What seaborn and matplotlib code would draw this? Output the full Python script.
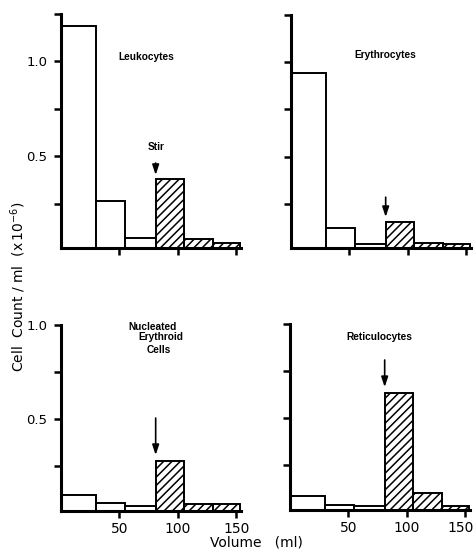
import matplotlib
matplotlib.use("Agg")
import matplotlib.pyplot as plt
import matplotlib.transforms as mtransforms
import numpy as np
import pandas as pd
import seaborn as sns

# ---------------- data ----------------
bin_edges = [0, 30, 55, 81, 105, 130, 153]
leukocytes = [1.187, 0.264, 0.067, 0.380, 0.062, 0.044]
erythrocytes = [0.943, 0.120, 0.037, 0.155, 0.044, 0.037]
nucleated_erythroid = [0.095, 0.051, 0.035, 0.278, 0.046, 0.046]
reticulocytes = [0.085, 0.037, 0.032, 0.636, 0.104, 0.033]
hatched_bins = [False, False, False, True, True, True]
stir_volume = 81
x_ticks = [50, 100, 150]
x_tick_labels = ["50", "100", "150"]

sns.set_style("ticks")
plt.rcParams["font.family"] = ["DejaVu Sans"]
plt.rcParams["text.color"] = "black"
plt.rcParams["hatch.linewidth"] = 1.1
plt.rcParams["hatch.color"] = "black"

W, H = 476, 550
fig = plt.figure(figsize=(W / 100, H / 100), dpi=100)


def axes_px(left, top, right, bottom):
    return fig.add_axes([left / W, 1 - bottom / H, (right - left) / W, (bottom - top) / H])


panels = [
    dict(vals=leukocytes, box=(61, 14, 241, 248), ylim=(0.016, 1.25),
         minor=[0.25, 0.75, 1.25], ylab=True, xlab=False,
         texts=[("Leukocytes", 72.7, 1.025), ("Stir", 81.3, 0.549)],
         arrow=(0.464, 0.401)),
    dict(vals=erythrocytes, box=(291, 15, 471, 248), ylim=(0.016, 1.25),
         minor=[0.25, 0.75, 1.25], ylab=False, xlab=False,
         texts=[("Erythrocytes", 80.4, 1.039)],
         arrow=(0.285, 0.18)),
    dict(vals=nucleated_erythroid, box=(61, 325, 241, 510.5), ylim=(0.013, 1.0),
         minor=[0.25, 0.75], ylab=True, xlab=True,
         texts=[("Nucleated", 78.3, 0.991), ("Erythroid", 85.1, 0.935), ("Cells", 83.4, 0.867)],
         arrow=(0.505, 0.308)),
    dict(vals=reticulocytes, box=(290, 324, 470, 510), ylim=(0.013, 1.0),
         minor=[0.25, 0.75], ylab=False, xlab=True,
         texts=[("Reticulocytes", 76.1, 0.931)],
         arrow=(0.809, 0.665)),
]

edges = np.array(bin_edges, dtype=float)
centers = (edges[:-1] + edges[1:]) / 2

axes = []
for p in panels:
    ax = axes_px(*p["box"])
    axes.append(ax)
    df = pd.DataFrame({"volume": centers, "count": p["vals"]})
    sns.histplot(data=df, x="volume", weights="count", bins=bin_edges,
                 color="white", edgecolor="black", linewidth=1.4, alpha=1,
                 ax=ax)
    for patch, h in zip(ax.patches, hatched_bins):
        if h:
            patch.set_hatch("////")
    ax.set_xlim(0, 154)
    ax.set_ylim(*p["ylim"])
    ax.set_xlabel("")
    ax.set_ylabel("")
    sns.despine(ax=ax)
    for s in ("left", "bottom"):
        ax.spines[s].set_linewidth(2.2)
        ax.spines[s].set_color("black")
    ax.set_xticks(x_ticks)
    ax.set_xticklabels(x_tick_labels if p["xlab"] else [])
    ax.set_yticks([0.5, 1.0])
    ax.set_yticklabels(["0.5", "1.0"] if p["ylab"] else [])
    ax.set_yticks(p["minor"], minor=True)
    ax.tick_params(axis="both", which="both", direction="out", length=5,
                   width=1.8, color="black", labelcolor="black")
    ax.tick_params(axis="y", labelsize=9.5, pad=5)
    ax.tick_params(axis="x", labelsize=10, pad=3)
    for (t, tx, ty) in p["texts"]:
        ax.text(tx, ty, t, ha="center", va="center", fontsize=7.3,
                fontweight="bold", color="black",
                family=["Liberation Sans", "DejaVu Sans"])
    y0, y1 = p["arrow"]
    ax.annotate("", xy=(stir_volume, y1), xytext=(stir_volume, y0),
                arrowprops=dict(arrowstyle="-|>,head_length=0.6,head_width=0.2",
                                color="black", lw=1.2, mutation_scale=10,
                                shrinkA=0, shrinkB=0))

# keep the last tick label of the right-hand panel inside the figure
last = axes[3].get_xticklabels()[-1]
last.set_transform(last.get_transform() +
                   mtransforms.ScaledTranslation(-5 / 100, 0, fig.dpi_scale_trans))

fig.text(256.5 / W, 1 - 543 / H, "Volume   (ml)", ha="center", va="center",
         fontsize=10, color="black")
fig.text(18 / W, 1 - 287 / H, r"Cell  Count / ml  (x$\,$10$^{-6}$)",
         rotation=90, ha="center", va="center", fontsize=10, color="black")

fig.savefig("out.png", dpi=100)
